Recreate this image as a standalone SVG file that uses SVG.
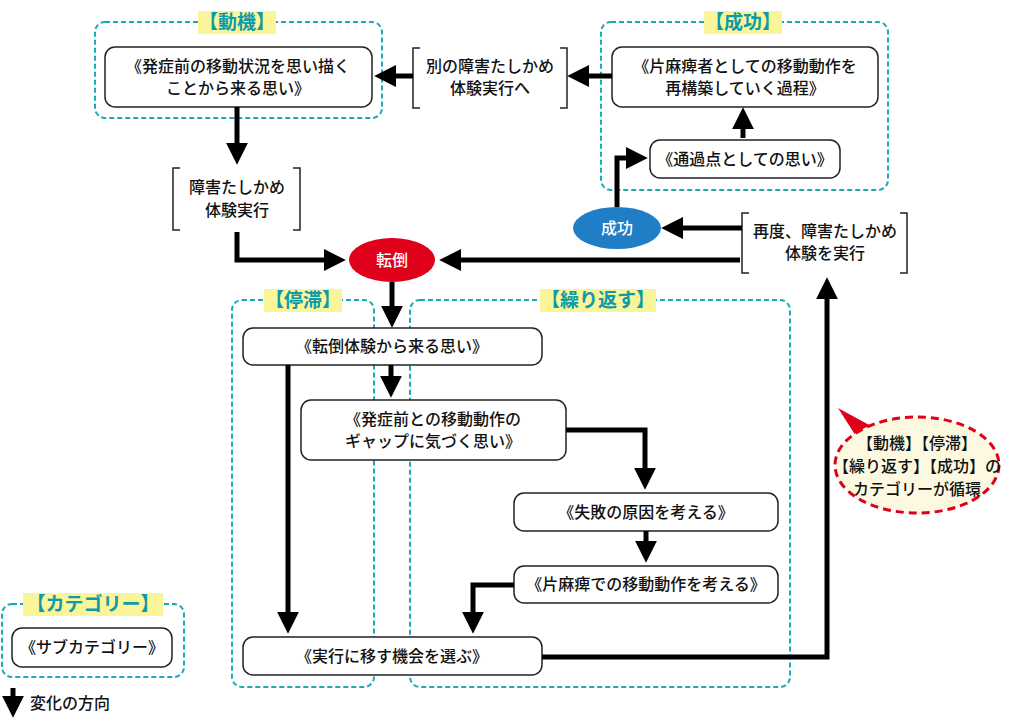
<svg xmlns="http://www.w3.org/2000/svg" width="1024" height="721" viewBox="0 0 1024 721">
<style>
text{font-family:"Noto Sans CJK JP","Noto Sans",sans-serif;font-size:16px;fill:#111;text-anchor:middle;font-weight:500}
.cat{fill:none;stroke:#1aa9b8;stroke-width:2;stroke-dasharray:5 3}
.lbl{fill:#fbf59a}
.lt{fill:#0f9aa8;font-size:19px;font-weight:700}
.box{fill:#fff;stroke:#222;stroke-width:1.5}
.br{fill:none;stroke:#222;stroke-width:1.5}
.ar{fill:none;stroke:#000;stroke-width:5;marker-end:url(#ah)}
</style>
<defs>
<marker id="ah" viewBox="0 0 10 10" refX="1" refY="5" markerWidth="4.4" markerHeight="4.4" orient="auto"><path d="M0,0 L10,5 L0,10 z" fill="#000"/></marker>
</defs>
<rect width="1024" height="721" fill="#fff"/>
<g id="cat-doki"><rect class="cat" x="95" y="22" width="287" height="96" rx="10"/><rect class="lbl" x="198" y="11" width="78" height="23"/><text class="lt" x="237" y="29">【動機】</text></g>
<g id="cat-seiko"><rect class="cat" x="601" y="22" width="287" height="168" rx="10"/><rect class="lbl" x="704" y="11" width="78" height="23"/><text class="lt" x="743" y="29">【成功】</text></g>
<g id="cat-teitai"><rect class="cat" x="232" y="300" width="142" height="387" rx="10"/><rect class="lbl" x="264" y="289" width="78" height="23"/><text class="lt" x="303" y="307">【停滞】</text></g>
<g id="cat-kurikaesu"><rect class="cat" x="410" y="300" width="380" height="387" rx="10"/><rect class="lbl" x="540" y="289" width="116" height="23"/><text class="lt" x="598" y="307">【繰り返す】</text></g>
<g id="legend-cat"><rect class="cat" x="2" y="604" width="182" height="73" rx="10"/><rect class="lbl" x="23" y="593" width="140" height="23"/><text class="lt" x="93" y="611">【カテゴリー】</text></g>

<g id="n-hassho"><rect class="box" x="105" y="47" width="267" height="60" rx="10"/><text x="238" y="72">《発症前の移動状況を思い描く</text><text x="238" y="94">ことから来る思い》</text></g>
<g id="n-betsu"><path class="br" d="M420,48h-7v60h7M560,48h7v60h-7"/><text x="490" y="72">別の障害たしかめ</text><text x="490" y="94">体験実行へ</text></g>
<g id="n-katamahi"><rect class="box" x="612" y="47" width="266" height="60" rx="10"/><text x="745" y="72">《片麻痺者としての移動動作を</text><text x="745" y="94">再構築していく過程》</text></g>
<g id="n-tsuka"><rect class="box" x="650" y="140" width="190" height="38" rx="10"/><text x="745" y="165">《通過点としての思い》</text></g>
<g id="n-shogai"><path class="br" d="M180,168h-7v62h7M293,168h7v62h-7"/><text x="237" y="193">障害たしかめ</text><text x="237" y="216">体験実行</text></g>
<g id="n-tento"><ellipse cx="392" cy="260" rx="43" ry="22" fill="#e0001a"/><text x="392" y="266" style="fill:#fff">転倒</text></g>
<g id="n-seiko"><ellipse cx="617" cy="228" rx="44" ry="21" fill="#1f7ec6"/><text x="617" y="234" style="fill:#fff">成功</text></g>
<g id="n-saido"><path class="br" d="M749,213h-7v60h7M900,213h7v60h-7"/><text x="825" y="237">再度、障害たしかめ</text><text x="825" y="259">体験を実行</text></g>
<g id="n-tentotaiken"><rect class="box" x="243" y="328" width="299" height="37" rx="10"/><text x="392" y="352">《転倒体験から来る思い》</text></g>
<g id="n-gap"><rect class="box" x="301" y="400" width="265" height="60" rx="10"/><text x="433" y="425">《発症前との移動動作の</text><text x="433" y="447">ギャップに気づく思い》</text></g>
<g id="n-shippai"><rect class="box" x="514" y="493" width="264" height="38" rx="10"/><text x="646" y="518">《失敗の原因を考える》</text></g>
<g id="n-katamahide"><rect class="box" x="514" y="566" width="264" height="37" rx="10"/><text x="646" y="590">《片麻痺での移動動作を考える》</text></g>
<g id="n-jikko"><rect class="box" x="243" y="637" width="299" height="38" rx="10"/><text x="392" y="662">《実行に移す機会を選ぶ》</text></g>
<g id="legend-sub"><rect class="box" x="12" y="628" width="160" height="39" rx="10"/><text x="92" y="653">《サブカテゴリー》</text></g>
<g id="legend-arrow"><path class="ar" d="M13,688v10"/><text x="30" y="709" style="text-anchor:start">変化の方向</text></g>

<g id="callout"><path d="M838,408L893,438L868,455z" fill="#e0001a"/><ellipse cx="917" cy="465" rx="82" ry="48" fill="#fdf9e0" stroke="#e0001a" stroke-width="3" stroke-dasharray="8 5"/><text x="917" y="449">【動機】【停滞】</text><text x="917" y="472">【繰り返す】【成功】の</text><text x="917" y="495">カテゴリーが循環</text></g>

<g id="connectors">
<path class="ar" d="M237,107v38"/>
<path class="ar" d="M237,232v28h89"/>
<path class="ar" d="M740,260H459"/>
<path class="ar" d="M413,76h-19"/>
<path class="ar" d="M612,76h-25"/>
<path class="ar" d="M617,207v-49h11"/>
<path class="ar" d="M743,138v-11"/>
<path class="ar" d="M742,228h-61"/>
<path class="ar" d="M392,282v26"/>
<path class="ar" d="M391,365v13"/>
<path class="ar" d="M566,430h79v40"/>
<path class="ar" d="M646,531v12"/>
<path class="ar" d="M514,585h-41v29"/>
<path class="ar" d="M288,365v249"/>
<path class="ar" d="M542,657h285v-360"/>
</g>
</svg>
